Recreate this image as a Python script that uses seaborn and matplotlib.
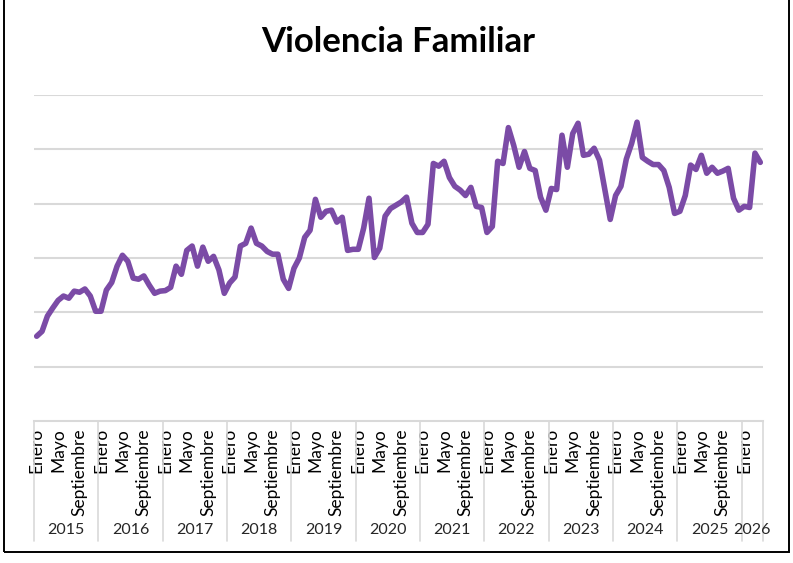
import numpy as np
import pandas as pd
import matplotlib
matplotlib.use("Agg")
import matplotlib.pyplot as plt
import matplotlib.transforms as mtransforms
import seaborn as sns

# monthly values (no y labels in the original, arbitrary units)
years = [2015, 2016, 2017, 2018, 2019, 2020, 2021, 2022, 2023, 2024, 2025, 2026]
v2015 = [156, 165, 193, 208, 222, 230, 226, 239, 237, 243, 230, 202]
v2016 = [202, 241, 255, 285, 305, 294, 263, 261, 267, 250, 235, 239]
v2017 = [240, 246, 285, 270, 314, 322, 285, 320, 294, 303, 278, 235]
v2018 = [254, 265, 322, 327, 355, 327, 322, 312, 307, 307, 261, 244]
v2019 = [281, 300, 338, 351, 408, 375, 386, 388, 366, 375, 314, 316]
v2020 = [316, 355, 410, 301, 318, 377, 391, 397, 403, 412, 364, 347]
v2021 = [347, 362, 474, 469, 478, 448, 432, 425, 415, 430, 395, 393]
v2022 = [347, 358, 478, 474, 540, 507, 467, 496, 465, 461, 412, 388]
v2023 = [428, 426, 526, 467, 529, 548, 489, 491, 502, 480, 425, 371]
v2024 = [415, 432, 482, 511, 550, 485, 478, 472, 472, 461, 430, 382]
v2025 = [386, 415, 471, 463, 489, 456, 467, 456, 460, 465, 410, 388]
v2026 = [395, 393, 493, 476]
month_names = ["Enero", "Febrero", "Marzo", "Abril", "Mayo", "Junio", "Julio",
               "Agosto", "Septiembre", "Octubre", "Noviembre", "Diciembre"]
shown_months = ["Enero", "Mayo", "Septiembre"]

series = [v2015, v2016, v2017, v2018, v2019, v2020, v2021, v2022, v2023, v2024, v2025, v2026]
rows = []
for yr, vals in zip(years, series):
    for m, v in enumerate(vals):
        rows.append({"year": yr, "month": month_names[m], "value": v})
df = pd.DataFrame(rows)
df["pos"] = np.arange(len(df))

sns.set_style("white")
plt.rcParams["font.family"] = ["Lato", "DejaVu Sans"]

fig = plt.figure(figsize=(7.93, 5.63), dpi=100)
ax = fig.add_axes([34 / 793, 1 - 421 / 563, 729 / 793, 326 / 563])

sns.lineplot(data=df, x="pos", y="value", color="#7B4BA6", linewidth=4, ax=ax)

ax.set_xlim(-0.5, len(df) - 0.5)
ax.set_ylim(0, 600)
ax.set_yticks(range(100, 601, 100))
ax.set_yticklabels([])
ax.yaxis.grid(True, color="#D9D9D9", linewidth=1.5)
ax.set_axisbelow(True)
ax.tick_params(axis="both", length=0)
for s in ["top", "left", "right"]:
    ax.spines[s].set_visible(False)
ax.spines["bottom"].set_color("#D9D9D9")
ax.spines["bottom"].set_linewidth(1.5)

# month labels
tick_df = df[df["month"].isin(shown_months)]
ax.set_xticks(tick_df["pos"])
ax.set_xticklabels(tick_df["month"], rotation=90, fontsize=12.5, color="#000000",
                   va="top", ha="center")
ax.tick_params(axis="x", pad=5)
ax.set_xlabel("")
ax.set_ylabel("")

# year level: dividers and labels
trans = mtransforms.blended_transform_factory(ax.transData, ax.transAxes)
bottom = -(541 - 421) / 326
starts = df.groupby("year")["pos"].min().values
ends = df.groupby("year")["pos"].max().values
for s in list(starts - 0.5) + [len(df) - 0.5]:
    ax.plot([s, s], [0, bottom], transform=trans, color="#D9D9D9", lw=1.2, clip_on=False)
for yr, s, e in zip(years, starts, ends):
    ax.text((s + e) / 2, -(530 - 421) / 326, str(yr), transform=trans,
            ha="center", va="center", fontsize=11.5)

fig.text(398 / 793, 1 - 42 / 563, "Violencia Familiar", ha="center", va="center",
         fontsize=25, fontweight="bold", color="#000000")

# outer chart border (top edge lies outside the picture)
fig.patches.append(plt.Rectangle((4 / 793, 11 / 563), 785 / 793, 560 / 563,
                                 transform=fig.transFigure, fill=False,
                                 edgecolor="#000000", linewidth=1.4))

fig.savefig("out.png", dpi=100)
